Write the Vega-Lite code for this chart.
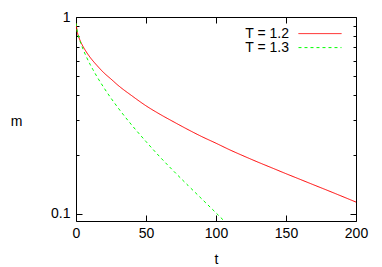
{
  "$schema": "https://vega.github.io/schema/vega-lite/v6.json",
  "width": 280,
  "height": 204,
  "autosize": "none",
  "padding": {"left": 76, "top": 17, "right": 26, "bottom": 46},
  "background": "white",
  "config": {
    "font": "Liberation Sans",
    "view": {"stroke": "black", "strokeWidth": 1},
    "axis": {"domain": false, "grid": false, "labelFlush": false, "tickColor": "black", "tickWidth": 1, "labelColor": "black", "labelFontSize": 14, "titleFontSize": 14, "titleFontWeight": "normal", "titleColor": "black", "labelFont": "Liberation Sans", "titleFont": "Liberation Sans"}
  },
  "data": {
    "values": [
      {"T": "T = 1.2", "t": 0, "m": 0.93},
      {"T": "T = 1.2", "t": 1, "m": 0.835},
      {"T": "T = 1.2", "t": 2, "m": 0.789},
      {"T": "T = 1.2", "t": 3, "m": 0.758},
      {"T": "T = 1.2", "t": 5, "m": 0.709},
      {"T": "T = 1.2", "t": 7, "m": 0.671},
      {"T": "T = 1.2", "t": 10, "m": 0.625},
      {"T": "T = 1.2", "t": 15, "m": 0.567},
      {"T": "T = 1.2", "t": 20, "m": 0.52},
      {"T": "T = 1.2", "t": 25, "m": 0.484},
      {"T": "T = 1.2", "t": 30, "m": 0.45},
      {"T": "T = 1.2", "t": 40, "m": 0.3975},
      {"T": "T = 1.2", "t": 50, "m": 0.354},
      {"T": "T = 1.2", "t": 60, "m": 0.3205},
      {"T": "T = 1.2", "t": 70, "m": 0.2927},
      {"T": "T = 1.2", "t": 80, "m": 0.268},
      {"T": "T = 1.2", "t": 90, "m": 0.2466},
      {"T": "T = 1.2", "t": 100, "m": 0.2285},
      {"T": "T = 1.2", "t": 110, "m": 0.2112},
      {"T": "T = 1.2", "t": 120, "m": 0.1964},
      {"T": "T = 1.2", "t": 130, "m": 0.1831},
      {"T": "T = 1.2", "t": 140, "m": 0.1712},
      {"T": "T = 1.2", "t": 150, "m": 0.16},
      {"T": "T = 1.2", "t": 160, "m": 0.1498},
      {"T": "T = 1.2", "t": 170, "m": 0.1402},
      {"T": "T = 1.2", "t": 180, "m": 0.1313},
      {"T": "T = 1.2", "t": 190, "m": 0.1228},
      {"T": "T = 1.2", "t": 200, "m": 0.1148},
      {"T": "T = 1.3", "t": 0, "m": 0.93},
      {"T": "T = 1.3", "t": 1, "m": 0.837},
      {"T": "T = 1.3", "t": 2, "m": 0.788},
      {"T": "T = 1.3", "t": 3, "m": 0.749},
      {"T": "T = 1.3", "t": 5, "m": 0.687},
      {"T": "T = 1.3", "t": 7, "m": 0.637},
      {"T": "T = 1.3", "t": 10, "m": 0.576},
      {"T": "T = 1.3", "t": 12, "m": 0.542},
      {"T": "T = 1.3", "t": 15, "m": 0.4975},
      {"T": "T = 1.3", "t": 20, "m": 0.4365},
      {"T": "T = 1.3", "t": 25, "m": 0.387},
      {"T": "T = 1.3", "t": 30, "m": 0.346},
      {"T": "T = 1.3", "t": 40, "m": 0.2816},
      {"T": "T = 1.3", "t": 50, "m": 0.233},
      {"T": "T = 1.3", "t": 60, "m": 0.1945},
      {"T": "T = 1.3", "t": 70, "m": 0.1642},
      {"T": "T = 1.3", "t": 80, "m": 0.1395},
      {"T": "T = 1.3", "t": 90, "m": 0.1188},
      {"T": "T = 1.3", "t": 100, "m": 0.1012},
      {"T": "T = 1.3", "t": 106, "m": 0.0918}
    ]
  },
  "layer": [
    {
      "mark": {"type": "line", "strokeWidth": 1, "clip": true, "interpolate": "monotone"},
      "encoding": {
        "x": {
          "field": "t", "type": "quantitative",
          "scale": {"domain": [0, 200], "nice": false, "zero": false},
          "axis": {"orient": "bottom", "values": [0, 50, 100, 150, 200], "tickSize": -6, "labelPadding": 11, "title": "t", "titlePadding": 12}
        },
        "y": {
          "field": "m", "type": "quantitative",
          "scale": {"type": "log", "domain": [0.092, 1], "nice": false},
          "axis": {
            "orient": "left",
            "values": [0.1, 0.2, 0.3, 0.4, 0.5, 0.6, 0.7, 0.8, 0.9, 1],
            "labelExpr": "datum.value >= 0.99 ? '1' : (datum.value <= 0.101 ? '0.1' : '')",
            "tickSize": {"condition": {"test": "datum.value >= 0.99 || datum.value <= 0.101", "value": -6}, "value": -3},
            "labelPadding": 12,
            "title": "m", "titleAngle": 0, "titleAlign": "center", "titleBaseline": "middle", "titleX": -60, "titleY": 104
          }
        },
        "color": {
          "field": "T", "type": "nominal",
          "scale": {"domain": ["T = 1.2", "T = 1.3"], "range": ["#ff0000", "#00ff00"]},
          "legend": {"orient": "none", "legendX": 237, "legendY": 9.6, "title": null, "padding": 0, "symbolType": "M-4,0H4", "symbolSize": 115.6, "symbolStrokeWidth": 1, "symbolFillColor": "transparent", "rowPadding": 0, "labelAlign": "right", "labelOffset": -38, "labelFontSize": 14, "labelColor": "black", "labelFont": "Liberation Sans"}
        },
        "strokeDash": {
          "field": "T", "type": "nominal",
          "scale": {"domain": ["T = 1.2", "T = 1.3"], "range": [[1, 0], [3, 3]]},
          "legend": {"orient": "none", "legendX": 237, "legendY": 9.6, "title": null, "padding": 0, "symbolType": "M-4,0H4", "symbolSize": 115.6, "symbolStrokeWidth": 1, "symbolFillColor": "transparent", "rowPadding": 0, "labelAlign": "right", "labelOffset": -38, "labelFontSize": 14, "labelColor": "black", "labelFont": "Liberation Sans"}
        }
      }
    },
    {
      "mark": {"type": "line", "opacity": 0, "clip": true},
      "encoding": {
        "x": {
          "field": "t", "type": "quantitative",
          "axis": {"orient": "top", "values": [0, 50, 100, 150, 200], "tickSize": -6, "labels": false, "title": null}
        },
        "y": {
          "field": "m", "type": "quantitative",
          "axis": {
            "orient": "right",
            "values": [0.1, 0.2, 0.3, 0.4, 0.5, 0.6, 0.7, 0.8, 0.9, 1],
            "tickSize": {"condition": {"test": "datum.value >= 0.99 || datum.value <= 0.101", "value": -6}, "value": -3},
            "labels": false, "title": null
          }
        },
        "detail": {"field": "T", "type": "nominal"}
      }
    }
  ],
  "resolve": {"axis": {"x": "independent", "y": "independent"}}
}
